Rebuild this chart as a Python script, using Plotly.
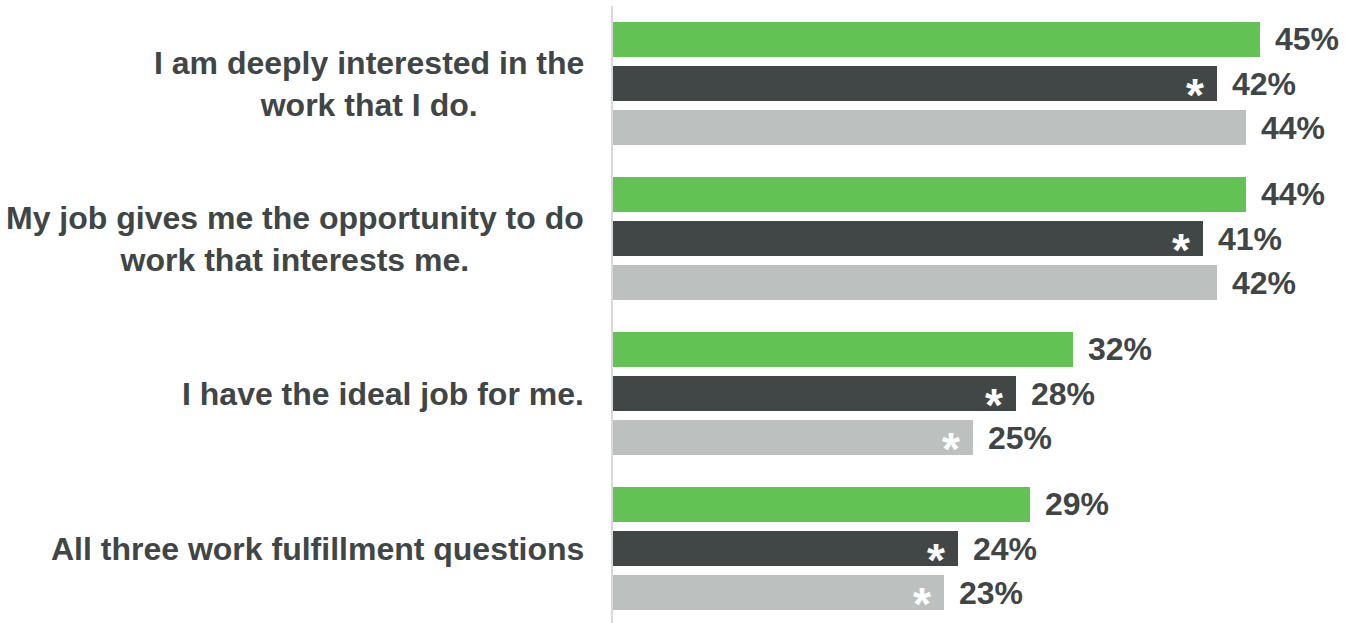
import plotly.graph_objects as go

categories = [
    "I am deeply interested in the<br>work that I do.",
    "My job gives me the opportunity to do<br>work that interests me.",
    "I have the ideal job for me.",
    "All three work fulfillment questions",
]
series_names = ["Series 1", "Series 2", "Series 3"]
series_values = [
    [45, 44, 32, 29],
    [42, 41, 28, 24],
    [44, 42, 25, 23],
]
series_stars = [
    [False, False, False, False],
    [True, True, True, True],
    [False, False, True, True],
]
series_colors = ["#63c254", "#414747", "#bcc1c0"]

FONT = "Liberation Sans, Arial, sans-serif"
TEXT_COLOR = "#404545"
BAR_W = 0.229
STEP = 0.284

fig = go.Figure()
annotations = []
for s, (name, vals, stars, col) in enumerate(zip(series_names, series_values, series_stars, series_colors)):
    off = (s - 1) * STEP
    ys = [k + off for k in range(len(categories))]
    fig.add_trace(go.Bar(
        x=vals, y=ys, orientation="h", width=BAR_W, name=name,
        marker=dict(color=col, line=dict(width=0)), showlegend=False,
        hoverinfo="x",
    ))
    for v, y, st in zip(vals, ys, stars):
        annotations.append(dict(
            x=v, y=y, xref="x", yref="y", text=f"<b>{v}%</b>", showarrow=False,
            xanchor="left", yanchor="middle", xshift=13,
            font=dict(family=FONT, size=32, color=TEXT_COLOR),
        ))
        if st:
            annotations.append(dict(
                x=v, y=y, xref="x", yref="y", text="<b>*</b>", showarrow=False,
                xanchor="right", yanchor="middle", xshift=-11, yshift=-11,
                font=dict(family=FONT, size=46, color="white"),
            ))

for k, cat in enumerate(categories):
    annotations.append(dict(
        x=0, y=k, xref="paper", yref="y", text=f"<b>{cat}</b>", showarrow=False,
        xanchor="right", yanchor="middle", xshift=-27, align="center",
        font=dict(family=FONT, size=32, color=TEXT_COLOR),
    ))

fig.update_layout(
    width=1356, height=623,
    margin=dict(l=613, r=24, t=6, b=0),
    paper_bgcolor="white", plot_bgcolor="white",
    annotations=annotations,
    xaxis=dict(range=[0, 50], visible=False, fixedrange=True),
    yaxis=dict(range=[3.4806, -0.5], showgrid=False, zeroline=False,
               showticklabels=False, ticks="", showline=True,
               linecolor="#d9d9d9", linewidth=2, mirror=False, fixedrange=True),
    bargap=0, barmode="overlay",
)
fig.write_html(
    "out.html",
    config={"displayModeBar": False},
    post_script="document.body.style.margin='0';document.body.style.overflow='hidden';",
)
